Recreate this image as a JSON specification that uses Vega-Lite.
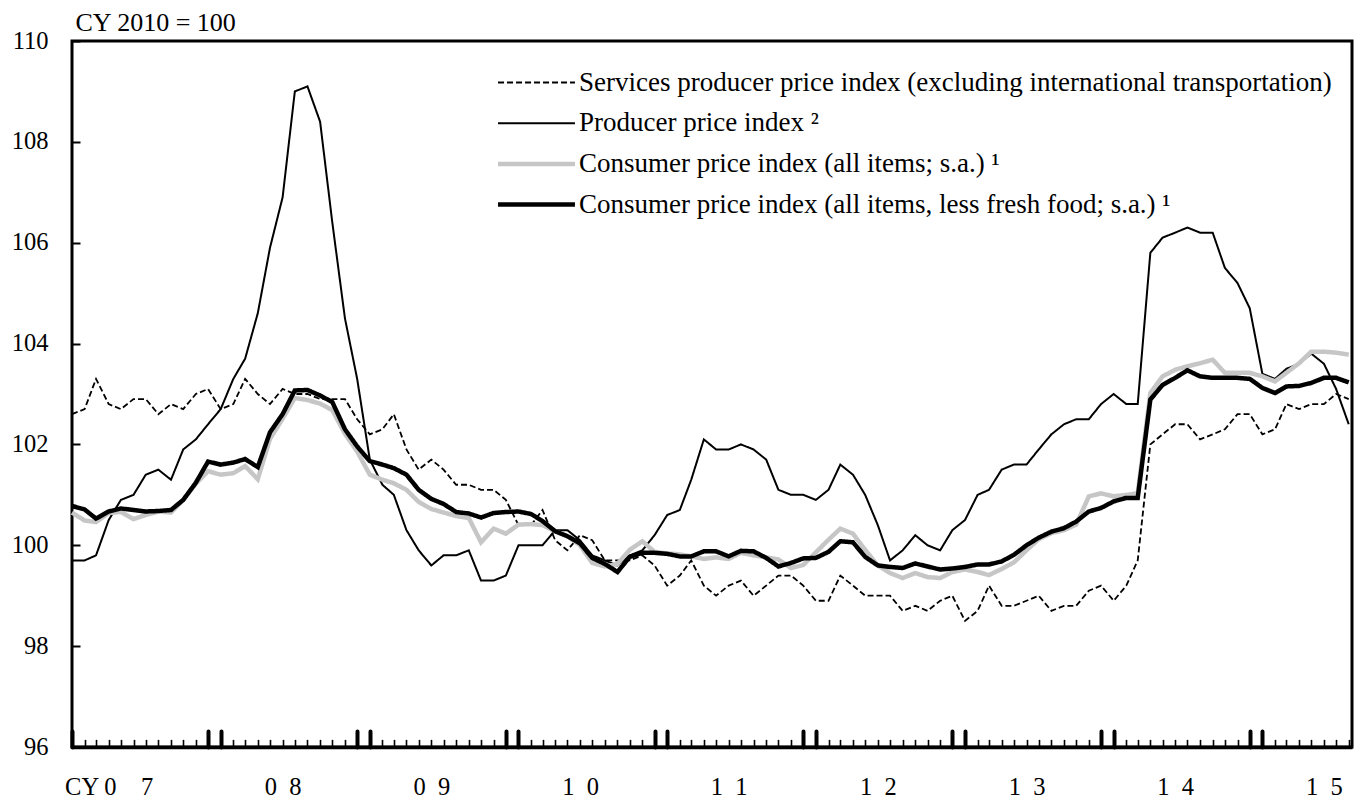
{
  "$schema": "https://vega.github.io/schema/vega-lite/v6.json",
  "width": 1280,
  "height": 706,
  "autosize": "none",
  "padding": {"left": 72, "top": 41, "right": 3, "bottom": 54},
  "background": "white",
  "config": {
    "view": {"stroke": "black", "strokeWidth": 3},
    "font": "Liberation Serif"
  },
  "data": {
    "format": {"parse": {"d": "utc:'%Y-%m'"}},
    "values": [
      {"d": "2007-01", "sppi": 102.6, "ppi": 99.7, "cpi": 100.65, "core": 100.78},
      {"d": "2007-02", "sppi": 102.7, "ppi": 99.7, "cpi": 100.49, "core": 100.71},
      {"d": "2007-03", "sppi": 103.3, "ppi": 99.8, "cpi": 100.46, "core": 100.53},
      {"d": "2007-04", "sppi": 102.8, "ppi": 100.5, "cpi": 100.64, "core": 100.67},
      {"d": "2007-05", "sppi": 102.7, "ppi": 100.9, "cpi": 100.66, "core": 100.73},
      {"d": "2007-06", "sppi": 102.9, "ppi": 101.0, "cpi": 100.52, "core": 100.70},
      {"d": "2007-07", "sppi": 102.9, "ppi": 101.4, "cpi": 100.60, "core": 100.67},
      {"d": "2007-08", "sppi": 102.6, "ppi": 101.5, "cpi": 100.67, "core": 100.68},
      {"d": "2007-09", "sppi": 102.8, "ppi": 101.3, "cpi": 100.65, "core": 100.70},
      {"d": "2007-10", "sppi": 102.7, "ppi": 101.9, "cpi": 100.90, "core": 100.90},
      {"d": "2007-11", "sppi": 103.0, "ppi": 102.1, "cpi": 101.22, "core": 101.24},
      {"d": "2007-12", "sppi": 103.1, "ppi": 102.4, "cpi": 101.47, "core": 101.66},
      {"d": "2008-01", "sppi": 102.7, "ppi": 102.7, "cpi": 101.40, "core": 101.60},
      {"d": "2008-02", "sppi": 102.8, "ppi": 103.3, "cpi": 101.43, "core": 101.64},
      {"d": "2008-03", "sppi": 103.3, "ppi": 103.7, "cpi": 101.57, "core": 101.71},
      {"d": "2008-04", "sppi": 103.0, "ppi": 104.6, "cpi": 101.31, "core": 101.55},
      {"d": "2008-05", "sppi": 102.8, "ppi": 105.9, "cpi": 102.11, "core": 102.24},
      {"d": "2008-06", "sppi": 103.1, "ppi": 106.9, "cpi": 102.51, "core": 102.60},
      {"d": "2008-07", "sppi": 103.0, "ppi": 109.0, "cpi": 102.92, "core": 103.07},
      {"d": "2008-08", "sppi": 103.0, "ppi": 109.1, "cpi": 102.88, "core": 103.08},
      {"d": "2008-09", "sppi": 102.9, "ppi": 108.4, "cpi": 102.81, "core": 102.97},
      {"d": "2008-10", "sppi": 102.9, "ppi": 106.4, "cpi": 102.68, "core": 102.84},
      {"d": "2008-11", "sppi": 102.9, "ppi": 104.5, "cpi": 102.21, "core": 102.30},
      {"d": "2008-12", "sppi": 102.5, "ppi": 103.3, "cpi": 101.86, "core": 101.96},
      {"d": "2009-01", "sppi": 102.2, "ppi": 101.7, "cpi": 101.40, "core": 101.67},
      {"d": "2009-02", "sppi": 102.3, "ppi": 101.2, "cpi": 101.30, "core": 101.60},
      {"d": "2009-03", "sppi": 102.6, "ppi": 101.0, "cpi": 101.23, "core": 101.53},
      {"d": "2009-04", "sppi": 101.9, "ppi": 100.3, "cpi": 101.10, "core": 101.40},
      {"d": "2009-05", "sppi": 101.5, "ppi": 99.9, "cpi": 100.86, "core": 101.10},
      {"d": "2009-06", "sppi": 101.7, "ppi": 99.6, "cpi": 100.72, "core": 100.92},
      {"d": "2009-07", "sppi": 101.5, "ppi": 99.8, "cpi": 100.65, "core": 100.82},
      {"d": "2009-08", "sppi": 101.2, "ppi": 99.8, "cpi": 100.58, "core": 100.66},
      {"d": "2009-09", "sppi": 101.2, "ppi": 99.9, "cpi": 100.54, "core": 100.63},
      {"d": "2009-10", "sppi": 101.1, "ppi": 99.3, "cpi": 100.06, "core": 100.55},
      {"d": "2009-11", "sppi": 101.1, "ppi": 99.3, "cpi": 100.33, "core": 100.64},
      {"d": "2009-12", "sppi": 100.9, "ppi": 99.4, "cpi": 100.23, "core": 100.66},
      {"d": "2010-01", "sppi": 100.4, "ppi": 100.0, "cpi": 100.41, "core": 100.67},
      {"d": "2010-02", "sppi": 100.4, "ppi": 100.0, "cpi": 100.42, "core": 100.62},
      {"d": "2010-03", "sppi": 100.7, "ppi": 100.0, "cpi": 100.40, "core": 100.48},
      {"d": "2010-04", "sppi": 100.1, "ppi": 100.3, "cpi": 100.28, "core": 100.28},
      {"d": "2010-05", "sppi": 99.9, "ppi": 100.3, "cpi": 100.18, "core": 100.18},
      {"d": "2010-06", "sppi": 100.2, "ppi": 100.1, "cpi": 100.00, "core": 100.04},
      {"d": "2010-07", "sppi": 100.1, "ppi": 99.8, "cpi": 99.65, "core": 99.75},
      {"d": "2010-08", "sppi": 99.7, "ppi": 99.7, "cpi": 99.58, "core": 99.63},
      {"d": "2010-09", "sppi": 99.7, "ppi": 99.6, "cpi": 99.63, "core": 99.47},
      {"d": "2010-10", "sppi": 99.7, "ppi": 99.8, "cpi": 99.91, "core": 99.77},
      {"d": "2010-11", "sppi": 99.8, "ppi": 99.9, "cpi": 100.08, "core": 99.85},
      {"d": "2010-12", "sppi": 99.6, "ppi": 100.2, "cpi": 99.87, "core": 99.85},
      {"d": "2011-01", "sppi": 99.2, "ppi": 100.6, "cpi": 99.84, "core": 99.83},
      {"d": "2011-02", "sppi": 99.4, "ppi": 100.7, "cpi": 99.82, "core": 99.78},
      {"d": "2011-03", "sppi": 99.7, "ppi": 101.3, "cpi": 99.78, "core": 99.78},
      {"d": "2011-04", "sppi": 99.2, "ppi": 102.1, "cpi": 99.73, "core": 99.88},
      {"d": "2011-05", "sppi": 99.0, "ppi": 101.9, "cpi": 99.76, "core": 99.88},
      {"d": "2011-06", "sppi": 99.2, "ppi": 101.9, "cpi": 99.73, "core": 99.78},
      {"d": "2011-07", "sppi": 99.3, "ppi": 102.0, "cpi": 99.85, "core": 99.89},
      {"d": "2011-08", "sppi": 99.0, "ppi": 101.9, "cpi": 99.80, "core": 99.88},
      {"d": "2011-09", "sppi": 99.2, "ppi": 101.7, "cpi": 99.76, "core": 99.75},
      {"d": "2011-10", "sppi": 99.4, "ppi": 101.1, "cpi": 99.72, "core": 99.58},
      {"d": "2011-11", "sppi": 99.4, "ppi": 101.0, "cpi": 99.55, "core": 99.65},
      {"d": "2011-12", "sppi": 99.2, "ppi": 101.0, "cpi": 99.61, "core": 99.74},
      {"d": "2012-01", "sppi": 98.9, "ppi": 100.9, "cpi": 99.86, "core": 99.75},
      {"d": "2012-02", "sppi": 98.9, "ppi": 101.1, "cpi": 100.11, "core": 99.87},
      {"d": "2012-03", "sppi": 99.4, "ppi": 101.6, "cpi": 100.33, "core": 100.08},
      {"d": "2012-04", "sppi": 99.2, "ppi": 101.4, "cpi": 100.23, "core": 100.06},
      {"d": "2012-05", "sppi": 99.0, "ppi": 101.0, "cpi": 99.91, "core": 99.77},
      {"d": "2012-06", "sppi": 99.0, "ppi": 100.4, "cpi": 99.60, "core": 99.60},
      {"d": "2012-07", "sppi": 99.0, "ppi": 99.7, "cpi": 99.45, "core": 99.57},
      {"d": "2012-08", "sppi": 98.7, "ppi": 99.9, "cpi": 99.35, "core": 99.55},
      {"d": "2012-09", "sppi": 98.8, "ppi": 100.2, "cpi": 99.45, "core": 99.64},
      {"d": "2012-10", "sppi": 98.7, "ppi": 100.0, "cpi": 99.37, "core": 99.58},
      {"d": "2012-11", "sppi": 98.9, "ppi": 99.9, "cpi": 99.35, "core": 99.52},
      {"d": "2012-12", "sppi": 99.0, "ppi": 100.3, "cpi": 99.47, "core": 99.54},
      {"d": "2013-01", "sppi": 98.5, "ppi": 100.5, "cpi": 99.52, "core": 99.57},
      {"d": "2013-02", "sppi": 98.7, "ppi": 101.0, "cpi": 99.47, "core": 99.62},
      {"d": "2013-03", "sppi": 99.2, "ppi": 101.1, "cpi": 99.41, "core": 99.62},
      {"d": "2013-04", "sppi": 98.8, "ppi": 101.5, "cpi": 99.53, "core": 99.68},
      {"d": "2013-05", "sppi": 98.8, "ppi": 101.6, "cpi": 99.66, "core": 99.81},
      {"d": "2013-06", "sppi": 98.9, "ppi": 101.6, "cpi": 99.90, "core": 100.00},
      {"d": "2013-07", "sppi": 99.0, "ppi": 101.9, "cpi": 100.12, "core": 100.15},
      {"d": "2013-08", "sppi": 98.7, "ppi": 102.2, "cpi": 100.24, "core": 100.27},
      {"d": "2013-09", "sppi": 98.8, "ppi": 102.4, "cpi": 100.30, "core": 100.34},
      {"d": "2013-10", "sppi": 98.8, "ppi": 102.5, "cpi": 100.41, "core": 100.47},
      {"d": "2013-11", "sppi": 99.1, "ppi": 102.5, "cpi": 100.97, "core": 100.67},
      {"d": "2013-12", "sppi": 99.2, "ppi": 102.8, "cpi": 101.03, "core": 100.74},
      {"d": "2014-01", "sppi": 98.9, "ppi": 103.0, "cpi": 100.97, "core": 100.87},
      {"d": "2014-02", "sppi": 99.2, "ppi": 102.8, "cpi": 101.00, "core": 100.94},
      {"d": "2014-03", "sppi": 99.7, "ppi": 102.8, "cpi": 101.03, "core": 100.94},
      {"d": "2014-04", "sppi": 102.0, "ppi": 105.8, "cpi": 103.02, "core": 102.89},
      {"d": "2014-05", "sppi": 102.2, "ppi": 106.1, "cpi": 103.35, "core": 103.18},
      {"d": "2014-06", "sppi": 102.4, "ppi": 106.2, "cpi": 103.48, "core": 103.32},
      {"d": "2014-07", "sppi": 102.4, "ppi": 106.3, "cpi": 103.55, "core": 103.47},
      {"d": "2014-08", "sppi": 102.1, "ppi": 106.2, "cpi": 103.61, "core": 103.35},
      {"d": "2014-09", "sppi": 102.2, "ppi": 106.2, "cpi": 103.68, "core": 103.32},
      {"d": "2014-10", "sppi": 102.3, "ppi": 105.5, "cpi": 103.42, "core": 103.32},
      {"d": "2014-11", "sppi": 102.6, "ppi": 105.2, "cpi": 103.42, "core": 103.32},
      {"d": "2014-12", "sppi": 102.6, "ppi": 104.7, "cpi": 103.42, "core": 103.30},
      {"d": "2015-01", "sppi": 102.2, "ppi": 103.4, "cpi": 103.35, "core": 103.12},
      {"d": "2015-02", "sppi": 102.3, "ppi": 103.3, "cpi": 103.25, "core": 103.02},
      {"d": "2015-03", "sppi": 102.8, "ppi": 103.5, "cpi": 103.42, "core": 103.15},
      {"d": "2015-04", "sppi": 102.7, "ppi": 103.6, "cpi": 103.61, "core": 103.16},
      {"d": "2015-05", "sppi": 102.8, "ppi": 103.8, "cpi": 103.84, "core": 103.22},
      {"d": "2015-06", "sppi": 102.8, "ppi": 103.6, "cpi": 103.84, "core": 103.32},
      {"d": "2015-07", "sppi": 103.0, "ppi": 103.1, "cpi": 103.82, "core": 103.32},
      {"d": "2015-08", "sppi": 102.9, "ppi": 102.4, "cpi": 103.78, "core": 103.23}
    ]
  },
  "transform": [
    {"fold": ["sppi", "ppi", "cpi", "core"], "as": ["series", "value"]}
  ],
  "mark": {"type": "line", "strokeJoin": "miter", "strokeMiterLimit": 4},
  "encoding": {
    "x": {
      "field": "d",
      "type": "temporal",
      "scale": {
        "type": "utc",
        "nice": false,
        "domain": [
          {"year": 2007, "month": 1, "date": 1, "utc": true},
          {"year": 2015, "month": 8, "date": 9, "utc": true}
        ]
      },
      "axis": {
        "title": null,
        "grid": false,
        "domain": true,
        "domainColor": "black",
        "domainWidth": 3.5,
        "tickCount": {"interval": "month", "step": 1},
        "tickSize": -16,
        "tickColor": "black",
        "tickCap": "round",
        "tickWidth": {
          "condition": {"test": "utcmonth(datum.value) == 0 || utcmonth(datum.value) == 11", "value": 4},
          "value": 1.6
        },
        "tickDash": {
          "condition": {"test": "utcmonth(datum.value) == 0 || utcmonth(datum.value) == 11", "value": [1, 0]},
          "value": [7, 40]
        },
        "labelExpr": "utcyear(datum.value) == 2007 && utcmonth(datum.value) == 3 ? 'CY 0\u20037' : (utcyear(datum.value) > 2007 && utcmonth(datum.value) == 5 ? substring(format(utcyear(datum.value) % 100, '02d'), 0, 1) + '\u2002' + substring(format(utcyear(datum.value) % 100, '02d'), 1, 2) : '')",
        "labelOverlap": false,
        "labelFlush": false,
        "labelBound": false,
        "labelAngle": 0,
        "labelFont": "Liberation Serif",
        "labelFontSize": 24.5,
        "labelColor": "black",
        "labelPadding": 44
      }
    },
    "y": {
      "field": "value",
      "type": "quantitative",
      "scale": {"domain": [96, 110], "nice": false, "zero": false},
      "axis": {
        "title": "CY 2010 = 100",
        "titleAngle": 0,
        "titleX": 3,
        "titleY": -11,
        "titleAlign": "left",
        "titleBaseline": "alphabetic",
        "titleFont": "Liberation Serif",
        "titleFontSize": 26,
        "titleFontWeight": "normal",
        "titleColor": "black",
        "grid": false,
        "domain": false,
        "values": [96, 98, 100, 102, 104, 106, 108, 110],
        "tickSize": -8,
        "tickWidth": 2,
        "tickColor": "black",
        "labelFont": "Liberation Serif",
        "labelFontSize": 24.5,
        "labelColor": "black",
        "labelPadding": 32,
        "labelOverlap": false,
        "labelFlush": false,
        "labelBound": false
      }
    },
    "stroke": {
      "field": "series",
      "type": "nominal",
      "scale": {"domain": ["sppi", "ppi", "cpi", "core"], "range": ["black", "black", "#c6c6c6", "black"]},
      "legend": {
        "title": null,
        "orient": "none",
        "legendX": 451,
        "legendY": 28,
        "padding": 0,
        "symbolType": "M-4,0H4",
        "symbolSize": 370,
        "labelFont": "Liberation Serif",
        "labelFontSize": 27,
        "labelColor": "black",
        "labelLimit": 0,
        "labelOffset": 29,
        "rowPadding": 12.7,
        "labelExpr": "datum.label == 'sppi' ? 'Services producer price index (excluding international transportation)' : datum.label == 'ppi' ? 'Producer price index \u00b2' : datum.label == 'cpi' ? 'Consumer price index (all items; s.a.)  \u00b9' : 'Consumer price index (all items, less fresh food; s.a.)  \u00b9'"
      }
    },
    "strokeWidth": {
      "field": "series",
      "type": "nominal",
      "scale": {"type": "ordinal", "domain": ["sppi", "ppi", "cpi", "core"], "range": [1.8, 2, 4.5, 4.5]},
      "legend": {
        "title": null,
        "orient": "none",
        "legendX": 451,
        "legendY": 28,
        "padding": 0,
        "symbolType": "M-4,0H4",
        "symbolSize": 370,
        "labelFont": "Liberation Serif",
        "labelFontSize": 27,
        "labelColor": "black",
        "labelLimit": 0,
        "labelOffset": 29,
        "rowPadding": 12.7,
        "labelExpr": "datum.label == 'sppi' ? 'Services producer price index (excluding international transportation)' : datum.label == 'ppi' ? 'Producer price index \u00b2' : datum.label == 'cpi' ? 'Consumer price index (all items; s.a.)  \u00b9' : 'Consumer price index (all items, less fresh food; s.a.)  \u00b9'"
      }
    },
    "strokeDash": {
      "field": "series",
      "type": "nominal",
      "scale": {"domain": ["sppi", "ppi", "cpi", "core"], "range": [[6, 3], [1, 0], [1, 0], [1, 0]]},
      "legend": {
        "title": null,
        "orient": "none",
        "legendX": 451,
        "legendY": 28,
        "padding": 0,
        "symbolType": "M-4,0H4",
        "symbolSize": 370,
        "labelFont": "Liberation Serif",
        "labelFontSize": 27,
        "labelColor": "black",
        "labelLimit": 0,
        "labelOffset": 29,
        "rowPadding": 12.7,
        "labelExpr": "datum.label == 'sppi' ? 'Services producer price index (excluding international transportation)' : datum.label == 'ppi' ? 'Producer price index \u00b2' : datum.label == 'cpi' ? 'Consumer price index (all items; s.a.)  \u00b9' : 'Consumer price index (all items, less fresh food; s.a.)  \u00b9'"
      }
    }
  }
}
